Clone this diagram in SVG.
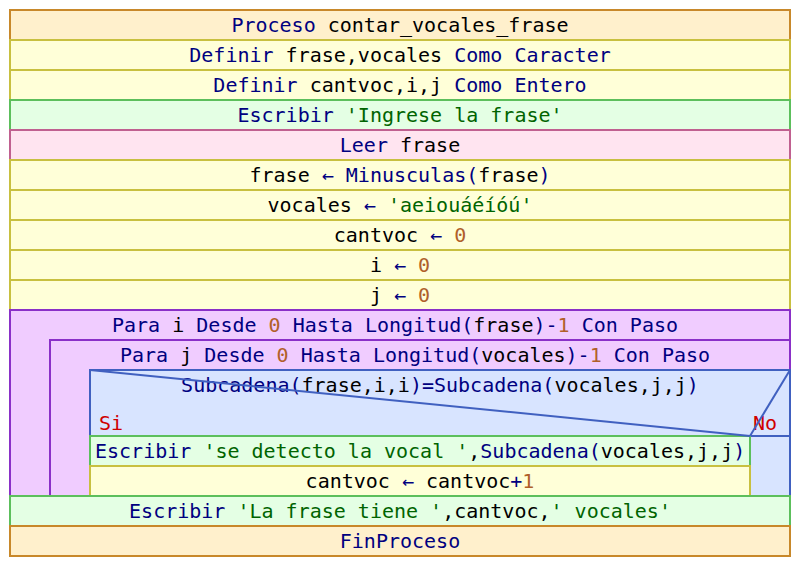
<svg xmlns="http://www.w3.org/2000/svg" width="800" height="566" viewBox="0 0 800 566">
  <style>
    text { font-family: "DejaVu Sans Mono", "Liberation Mono", monospace; font-size: 20px; fill: #000; }
    .c { text-anchor: middle; }
    .kw { fill: #000080; }
    .str { fill: #006400; }
    .num { fill: #b0602a; }
    .lbl { fill: #d00000; }
    .proc { fill: #fff0cc; stroke: #c8882a; stroke-width: 2; }
    .def { fill: #ffffd8; stroke: #c8c040; stroke-width: 2; }
    .out { fill: #e4ffe4; stroke: #5cbf5c; stroke-width: 2; }
    .in { fill: #ffe4f0; stroke: #c06090; stroke-width: 2; }
    .loop { fill: #f0ccff; stroke: #8a30c8; stroke-width: 2; }
    .cond { fill: #d8e4ff; stroke: #4060c0; stroke-width: 2; }
  </style>
  <rect width="800" height="566" fill="#fff"/>

  <g id="proceso">
    <rect class="proc" x="10" y="10" width="780" height="30"/>
    <text class="c" x="400" y="32"><tspan class="kw">Proceso</tspan> contar_vocales_frase</text>
  </g>
  <g id="definir1">
    <rect class="def" x="10" y="40" width="780" height="30"/>
    <text class="c" x="400" y="62"><tspan class="kw">Definir</tspan> frase,vocales <tspan class="kw">Como Caracter</tspan></text>
  </g>
  <g id="definir2">
    <rect class="def" x="10" y="70" width="780" height="30"/>
    <text class="c" x="400" y="92"><tspan class="kw">Definir</tspan> cantvoc,i,j <tspan class="kw">Como Entero</tspan></text>
  </g>
  <g id="escribir1">
    <rect class="out" x="10" y="100" width="780" height="30"/>
    <text class="c" x="400" y="122"><tspan class="kw">Escribir</tspan> <tspan class="str">'Ingrese la frase'</tspan></text>
  </g>
  <g id="leer">
    <rect class="in" x="10" y="130" width="780" height="30"/>
    <text class="c" x="400" y="152"><tspan class="kw">Leer</tspan> frase</text>
  </g>
  <g id="asig-frase">
    <rect class="def" x="10" y="160" width="780" height="30"/>
    <text class="c" x="400" y="182">frase <tspan class="kw">←</tspan> <tspan class="kw">Minusculas(</tspan>frase<tspan class="kw">)</tspan></text>
  </g>
  <g id="asig-vocales">
    <rect class="def" x="10" y="190" width="780" height="30"/>
    <text class="c" x="400" y="212">vocales <tspan class="kw">←</tspan> <tspan class="str">'aeiouáéíóú'</tspan></text>
  </g>
  <g id="asig-cantvoc">
    <rect class="def" x="10" y="220" width="780" height="30"/>
    <text class="c" x="400" y="242">cantvoc <tspan class="kw">←</tspan> <tspan class="num">0</tspan></text>
  </g>
  <g id="asig-i">
    <rect class="def" x="10" y="250" width="780" height="30"/>
    <text class="c" x="400" y="272">i <tspan class="kw">←</tspan> <tspan class="num">0</tspan></text>
  </g>
  <g id="asig-j">
    <rect class="def" x="10" y="280" width="780" height="30"/>
    <text class="c" x="400" y="302">j <tspan class="kw">←</tspan> <tspan class="num">0</tspan></text>
  </g>

  <g id="para-i">
    <rect class="loop" x="10" y="310" width="780" height="186"/>
    <text x="112" y="332"><tspan class="kw">Para</tspan> i <tspan class="kw">Desde</tspan> <tspan class="num">0</tspan> <tspan class="kw">Hasta Longitud(</tspan>frase<tspan class="kw">)-</tspan><tspan class="num">1</tspan> <tspan class="kw">Con Paso</tspan></text>
  </g>
  <g id="para-j">
    <rect class="loop" x="50" y="340" width="740" height="156"/>
    <text x="120" y="362"><tspan class="kw">Para</tspan> j <tspan class="kw">Desde</tspan> <tspan class="num">0</tspan> <tspan class="kw">Hasta Longitud(</tspan>vocales<tspan class="kw">)-</tspan><tspan class="num">1</tspan> <tspan class="kw">Con Paso</tspan></text>
  </g>
  <g id="si-cond">
    <rect class="cond" x="90" y="370" width="700" height="126"/>
    <rect class="cond" x="750" y="436" width="40" height="60"/>
    <text class="c" x="440" y="392"><tspan class="kw">Subcadena(</tspan>frase,i,i<tspan class="kw">)=Subcadena(</tspan>vocales,j,j<tspan class="kw">)</tspan></text>
    <text class="lbl" x="99" y="430">Si</text>
    <text class="lbl" x="753" y="430">No</text>
  </g>
  <g id="escribir2">
    <rect class="out" x="90" y="436" width="660" height="30"/>
    <text x="95" y="458"><tspan class="kw">Escribir</tspan> <tspan class="str">'se detecto la vocal '</tspan>,<tspan class="kw">Subcadena(</tspan>vocales,j,j<tspan class="kw">)</tspan></text>
  </g>
  <g id="incremento">
    <rect class="def" x="90" y="466" width="660" height="30"/>
    <text class="c" x="420" y="488">cantvoc <tspan class="kw">←</tspan> cantvoc<tspan class="kw">+</tspan><tspan class="num">1</tspan></text>
  </g>
  <g id="escribir3">
    <rect class="out" x="10" y="496" width="780" height="30"/>
    <text class="c" x="400" y="518"><tspan class="kw">Escribir</tspan> <tspan class="str">'La frase tiene '</tspan>,cantvoc,<tspan class="str">' vocales'</tspan></text>
  </g>
  <g id="finproceso">
    <rect class="proc" x="10" y="526" width="780" height="30"/>
    <text class="c" x="400" y="548"><tspan class="kw">FinProceso</tspan></text>
  </g>

  <g id="connectors" stroke="#4060c0" stroke-width="2" fill="none">
    <line x1="90" y1="370" x2="750" y2="436"/>
    <line x1="790" y1="370" x2="750" y2="436"/>
  </g>
</svg>
